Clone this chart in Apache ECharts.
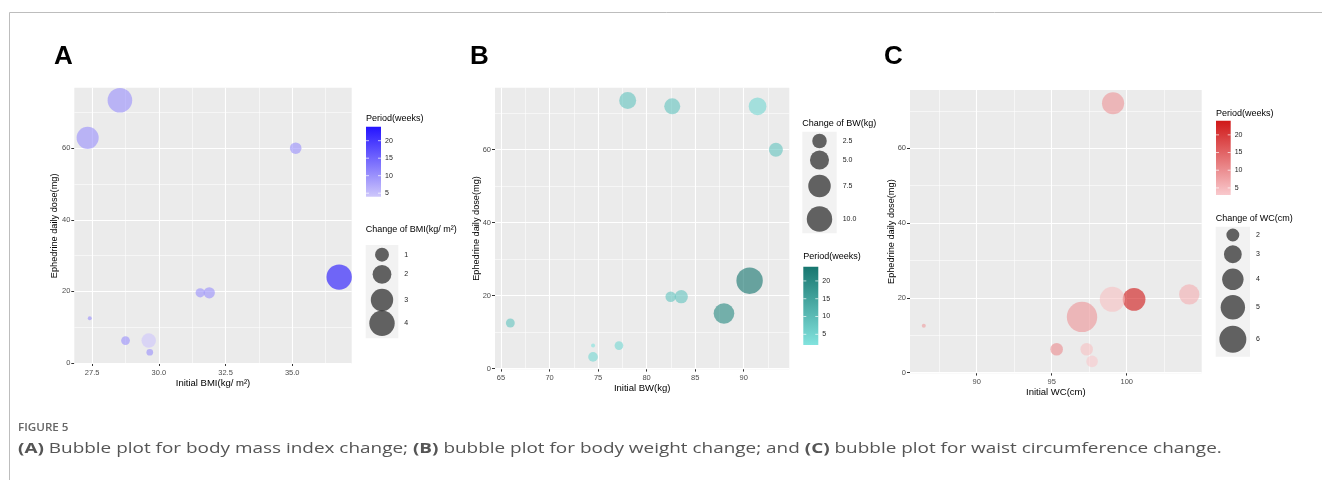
<!DOCTYPE html>
<html><head><meta charset="utf-8">
<script src="https://cdn.jsdelivr.net/npm/echarts@6/dist/echarts.min.js"></script>
<style>html,body{margin:0;padding:0;background:#fff}#c{width:1322px;height:480px}</style>
</head><body><div id="c"></div>
<script>
// ================= DATA =================
const doseTicks = [0, 20, 40, 60];
const doseTickLabels = ['0', '20', '40', '60'];
const periodBreaks = [5, 10, 15, 20];
const periodBreakLabels = ['5', '10', '15', '20'];

// Panel A: BMI
const aBMI    = [28.54, 27.33, 35.13, 36.76, 31.55, 31.89, 27.41, 28.75, 29.62, 29.66];
const aDose   = [73.4, 62.9, 60.0, 24.0, 19.6, 19.6, 12.5, 6.25, 6.25, 3.0];
const aChange = [3.73, 2.92, 0.66, 4.0, 0.41, 0.62, 0.18, 0.37, 1.1, 0.24];
const aPeriod = [10, 10, 10, 24, 10, 10, 10, 10, 4, 10];
const aXTicks = [27.5, 30, 32.5, 35];
const aXTickLabels = ['27.5', '30.0', '32.5', '35.0'];
const aSizeBreaks = [1, 2, 3, 4];
const aSizeBreakLabels = ['1', '2', '3', '4'];

// Panel B: body weight
const bBW     = [78.05, 82.64, 91.43, 93.32, 90.61, 87.97, 82.48, 83.57, 65.96, 74.48, 77.15, 74.48];
const bDose   = [73.5, 71.9, 71.9, 60.0, 24.1, 15.1, 19.7, 19.7, 12.5, 6.3, 6.3, 3.2];
const bChange = [3.75, 3.24, 4.19, 2.26, 10.9, 6.06, 1.03, 1.95, 0.63, 0.12, 0.59, 0.81];
const bPeriod = [8, 8, 4, 8, 24, 20, 8, 8, 8, 2, 4, 4];
const bXTicks = [65, 70, 75, 80, 85, 90];
const bXTickLabels = ['65', '70', '75', '80', '85', '90'];
const bSizeBreaks = [2.5, 5, 7.5, 10];
const bSizeBreakLabels = ['2.5', '5.0', '7.5', '10.0'];

// Panel C: waist circumference
const cWC     = [99.09, 104.17, 100.49, 99.04, 97.02, 86.47, 95.33, 97.33, 97.69];
const cDose   = [72.05, 20.9, 19.6, 19.6, 14.9, 12.5, 6.25, 6.25, 3.0];
const cChange = [4.24, 3.65, 4.43, 5.25, 7.5, 1.29, 1.94, 1.94, 1.8];
const cPeriod = [9, 6, 24, 4, 9, 8, 10, 4, 3];
const cXTicks = [90, 95, 100];
const cXTickLabels = ['90', '95', '100'];
const cSizeBreaks = [2, 3, 4, 5, 6];
const cSizeBreakLabels = ['2', '3', '4', '5', '6'];

// ================= LAYOUT / STYLE =================
const FONT = '"Liberation Sans", Arial, sans-serif';
const panels = [
  { letter: 'A', letterX: 54, box: [74.3, 87.7, 277.4, 276.3], xr: [26.83, 37.23], yr: [-0.28, 76.9],
    xs: aBMI, ys: aDose, sz: aChange, pr: aPeriod, xTicks: aXTicks, xLabels: aXTickLabels, yNameGap: 15,
    xName: 'Initial BMI(kg/ m²)', low: '#cec7fb', high: '#2414ff', rMin: 2, rMax: 12.7,
    sizeBreaks: aSizeBreaks, sizeLabels: aSizeBreakLabels, sizeTitle: 'Change of BMI(kg/ m²)',
    cbar: [366, 126.7, 15, 70], cbarTitleY: 119,
    sbox: [365.7, 245, 32.6, 93.3], sCY: [254.7, 274.3, 300, 323.3], sTitleY: 230 },
  { letter: 'B', letterX: 470, box: [495, 87.7, 294.3, 281.6], xr: [64.38, 94.7], yr: [-0.19, 77.0],
    xs: bBW, ys: bDose, sz: bChange, pr: bPeriod, xTicks: bXTicks, xLabels: bXTickLabels, yNameGap: 14,
    xName: 'Initial BW(kg)', low: '#82e3de', high: '#17766f', rMin: 2, rMax: 13.2,
    sizeBreaks: bSizeBreaks, sizeLabels: bSizeBreakLabels, sizeTitle: 'Change of BW(kg)',
    cbar: [803.3, 266.7, 15, 78.3], cbarTitleY: 256.7,
    sbox: [802.3, 131.7, 34.4, 101.6], sCY: [141, 160, 186, 219], sTitleY: 124 },
  { letter: 'C', letterX: 884, box: [910, 90, 291.7, 283.3], xr: [85.55, 105.0], yr: [-0.19, 75.6],
    xs: cWC, ys: cDose, sz: cChange, pr: cPeriod, xTicks: cXTicks, xLabels: cXTickLabels, yNameGap: 14.5,
    xName: 'Initial WC(cm)', low: '#f9c9cd', high: '#d01818', rMin: 2, rMax: 15.2,
    sizeBreaks: cSizeBreaks, sizeLabels: cSizeBreakLabels, sizeTitle: 'Change of WC(cm)',
    cbar: [1216, 120.7, 14.7, 74.3], cbarTitleY: 113.3,
    sbox: [1215.7, 226.7, 34.3, 130], sCY: [235, 254.3, 279.3, 307.3, 339.3], sTitleY: 218.3 }
];

function rScale(vals, rMin, rMax) {
  const lo = Math.min(...vals), hi = Math.max(...vals);
  return v => rMin + (rMax - rMin) * Math.sqrt(Math.max(0, (v - lo) / (hi - lo)));
}
function minors(majors, lo, hi) {
  const step = majors[1] - majors[0];
  let s = majors[0] - step / 2;
  while (s - step > lo) s -= step;
  const out = [];
  for (let v = s; v < hi; v += step) if (v > lo) out.push(v);
  return out;
}
function fmt(ticks, labels) { return v => { const i = ticks.findIndex(t => Math.abs(t - v) < 1e-9); return i >= 0 ? labels[i] : ''; }; }

const chart = echarts.init(document.getElementById('c'), null, { renderer: 'canvas' });

const grids = [], xAxes = [], yAxes = [], series = [], visualMaps = [], graphic = [];

graphic.push({ type: 'rect', z: -10, shape: { x: 9.5, y: 12.5, width: 1400, height: 600 }, style: { fill: 'none', stroke: '#bdbdbd', lineWidth: 1 } });

panels.forEach((p, i) => {
  grids.push({ left: p.box[0], top: p.box[1], width: p.box[2], height: p.box[3], show: true,
    backgroundColor: '#ebebeb', borderWidth: 0, containLabel: false, outerBoundsMode: 'none' });
  xAxes.push({ gridIndex: i, type: 'value', min: p.xr[0], max: p.xr[1],
    axisLine: { show: false }, splitLine: { show: false }, minorSplitLine: { show: false },
    axisTick: { show: true, length: 3, customValues: p.xTicks, lineStyle: { color: '#333', width: 1 } },
    axisLabel: { customValues: p.xTicks, formatter: fmt(p.xTicks, p.xLabels), color: '#4d4d4d', fontSize: 7.5, fontFamily: FONT, margin: 5, hideOverlap: false },
    name: p.xName, nameLocation: 'middle', nameGap: 14, nameMoveOverlap: false,
    nameTextStyle: { color: '#000', fontSize: 9.5, fontFamily: FONT } });
  yAxes.push({ gridIndex: i, type: 'value', min: p.yr[0], max: p.yr[1],
    axisLine: { show: false }, splitLine: { show: false },
    axisTick: { show: true, length: 3, customValues: doseTicks, lineStyle: { color: '#333', width: 1 } },
    axisLabel: { customValues: doseTicks, formatter: fmt(doseTicks, doseTickLabels), color: '#4d4d4d', fontSize: 7.5, fontFamily: FONT, margin: 4, hideOverlap: false },
    name: 'Ephedrine daily dose(mg)', nameLocation: 'middle', nameGap: p.yNameGap, nameMoveOverlap: false,
    nameTextStyle: { color: '#000', fontSize: 9.2, fontFamily: FONT } });

  const xMin = minors(p.xTicks, p.xr[0], p.xr[1]);
  const yMin = minors(doseTicks, p.yr[0], p.yr[1]);
  const ml = [];
  xMin.forEach(v => ml.push({ xAxis: v, lineStyle: { width: 0.55 } }));
  yMin.forEach(v => ml.push({ yAxis: v, lineStyle: { width: 0.55 } }));
  p.xTicks.forEach(v => ml.push({ xAxis: v, lineStyle: { width: 1.1 } }));
  doseTicks.forEach(v => ml.push({ yAxis: v, lineStyle: { width: 1.1 } }));

  const pts = p.xs.map((x, k) => [x, p.ys[k], p.sz[k], p.pr[k]]);
  series.push({ type: 'scatter', xAxisIndex: i, yAxisIndex: i, z: 1, silent: true, symbolSize: 0, data: pts,
    itemStyle: { opacity: 0 },
    markLine: { silent: true, symbol: 'none', z: 1, animation: false, label: { show: false },
      emphasis: { disabled: true }, lineStyle: { color: '#ffffff', type: 'solid' }, data: ml } });

  const rs = rScale(p.sz, p.rMin, p.rMax);
  series.push({ type: 'scatter', xAxisIndex: i, yAxisIndex: i, z: 3, data: pts,
    symbol: 'circle', symbolSize: v => 2 * rs(v[2]),
    itemStyle: { opacity: 0.62, borderWidth: 0 }, emphasis: { disabled: true } });

  const pMin = Math.min(...p.pr), pMax = Math.max(...p.pr);
  visualMaps.push({ type: 'continuous', show: false, seriesIndex: 2 * i + 1, dimension: 3,
    min: pMin, max: pMax, inRange: { color: [p.low, p.high] } });

  // panel letter
  graphic.push({ type: 'text', x: p.letterX, y: 56.5, style: { text: p.letter, font: 'bold 26px ' + FONT, fill: '#000', textAlign: 'left', textVerticalAlign: 'middle', verticalAlign: 'middle' } });

  // colour bar legend
  const [cx, cy, cw, ch] = p.cbar;
  graphic.push({ type: 'text', x: cx, y: p.cbarTitleY, style: { text: 'Period(weeks)', font: '9px ' + FONT, fill: '#000', textVerticalAlign: 'middle', verticalAlign: 'middle' } });
  graphic.push({ type: 'rect', shape: { x: cx, y: cy, width: cw, height: ch },
    style: { fill: new echarts.graphic.LinearGradient(0, 0, 0, 1, [{ offset: 0, color: p.high }, { offset: 1, color: p.low }]) } });
  periodBreaks.forEach((v, k) => {
    const yy = cy + ch - (v - pMin) / (pMax - pMin) * ch;
    graphic.push({ type: 'line', shape: { x1: cx, y1: yy, x2: cx + 3, y2: yy }, style: { stroke: '#fff', lineWidth: 0.7 } });
    graphic.push({ type: 'line', shape: { x1: cx + cw - 3, y1: yy, x2: cx + cw, y2: yy }, style: { stroke: '#fff', lineWidth: 0.7 } });
    graphic.push({ type: 'text', x: cx + cw + 4, y: yy, style: { text: periodBreakLabels[k], font: '7px ' + FONT, fill: '#222', textVerticalAlign: 'middle', verticalAlign: 'middle' } });
  });

  // size legend
  const [sx, sy, sw, sh] = p.sbox;
  graphic.push({ type: 'text', x: sx, y: p.sTitleY, style: { text: p.sizeTitle, font: '9px ' + FONT, fill: '#000', textVerticalAlign: 'middle', verticalAlign: 'middle' } });
  graphic.push({ type: 'rect', shape: { x: sx, y: sy, width: sw, height: sh }, style: { fill: '#f2f2f2' } });
  p.sizeBreaks.forEach((v, k) => {
    graphic.push({ type: 'circle', shape: { cx: sx + sw / 2, cy: p.sCY[k], r: rs(v) }, style: { fill: '#000', opacity: 0.6 } });
    graphic.push({ type: 'text', x: sx + sw + 6, y: p.sCY[k], style: { text: p.sizeLabels[k], font: '7px ' + FONT, fill: '#222', textVerticalAlign: 'middle', verticalAlign: 'middle' } });
  });
});

// caption
graphic.push({ type: 'text', x: 18, y: 428, scaleX: 1.06, style: { text: 'FIGURE 5', font: '600 11px "Open Sans", sans-serif', fill: '#666', textVerticalAlign: 'middle', verticalAlign: 'middle' } });
graphic.push({ type: 'text', x: 18, y: 449, scaleX: 1.262, style: {
  text: '{b|(A)} Bubble plot for body mass index change; {b|(B)} bubble plot for body weight change; and {b|(C)} bubble plot for waist circumference change.',
  font: '15px "Open Sans", sans-serif', fill: '#555', textVerticalAlign: 'middle', verticalAlign: 'middle',
  rich: { b: { fontWeight: 'bold', fontSize: 15, fontFamily: '"Open Sans", sans-serif', fill: '#555' } } } });

chart.setOption({ animation: false, backgroundColor: '#ffffff', grid: grids, xAxis: xAxes, yAxis: yAxes,
  visualMap: visualMaps, series: series, graphic: graphic });
</script></body></html>
